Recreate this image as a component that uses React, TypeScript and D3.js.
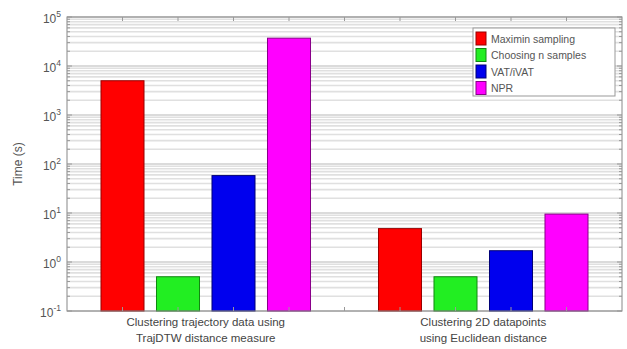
import React, { useEffect, useRef } from 'react';
import * as d3 from 'd3';

const groups = [
  ['Clustering trajectory data using', 'TrajDTW distance measure'],
  ['Clustering 2D datapoints', 'using Euclidean distance'],
];
const methods = ['Maximin sampling', 'Choosing n samples', 'VAT/iVAT', 'NPR'];
const colors = ['#ff0000', '#22ee22', '#0000ee', '#ff00ff'];
const edgeColors = ['#990000', '#118811', '#000077', '#880088'];
// one value per group
const maximin = [5000, 4.8];
const chooseN = [0.5, 0.5];
const vat = [58, 1.7];
const npr = [37000, 9.5];
const yTickExps = [-1, 0, 1, 2, 3, 4, 5];

const App = () => {
  const ref = useRef<SVGSVGElement>(null);

  useEffect(() => {
    const svg = d3.select(ref.current);
    svg.selectAll('*').remove();
    const left = 67, right = 622, top = 17, bottom = 311;

    const x = d3.scaleLinear().domain([0.5, 2.5]).range([left, right]);
    const y = d3.scaleLog().domain([0.1, 100000]).range([bottom, top]);
    const series = [maximin, chooseN, vat, npr];
    const step = 0.2;
    const barW = 0.155;

    svg.append('rect').attr('x', left).attr('y', top).attr('width', right - left).attr('height', bottom - top).attr('fill', '#fff');

    // grid lines
    const minor: number[] = [];
    for (let e = -1; e < 5; e++) for (let m = 1; m <= 9; m++) minor.push(m * Math.pow(10, e));
    minor.push(100000);
    const isMajor = (v: number) => Math.abs(Math.log10(v) - Math.round(Math.log10(v))) < 1e-9;
    svg.append('g').selectAll('line').data(minor).join('line')
      .attr('x1', left).attr('x2', right)
      .attr('y1', d => y(d)).attr('y2', d => y(d))
      .attr('stroke', d => (isMajor(d) ? '#cfcfcf' : '#e0e0e0'))
      .attr('stroke-width', 1.6);

    // bars
    series.forEach((vals, si) => {
      svg.append('g').selectAll('rect').data(vals).join('rect')
        .attr('x', (d, gi) => x(gi + 1 + (si - 1.5) * step - barW / 2))
        .attr('width', x(barW) - x(0))
        .attr('y', d => y(d))
        .attr('height', d => bottom - y(d))
        .attr('fill', colors[si])
        .attr('stroke', edgeColors[si])
        .attr('stroke-width', 1);
    });

    // axes box
    svg.append('rect').attr('x', left).attr('y', top).attr('width', right - left).attr('height', bottom - top)
      .attr('fill', 'none').attr('stroke', '#888').attr('stroke-width', 1);

    // ticks
    const ticks = svg.append('g');
    minor.forEach(v => {
      const len = isMajor(v) ? 5 : 3;
      ticks.append('line').attr('x1', left).attr('x2', left + len).attr('y1', y(v)).attr('y2', y(v)).attr('stroke', '#999');
      ticks.append('line').attr('x1', right).attr('x2', right - len).attr('y1', y(v)).attr('y2', y(v)).attr('stroke', '#999');
    });
    d3.range(0.7, 2.4, 0.2).forEach(v => {
      ticks.append('line').attr('x1', x(v)).attr('x2', x(v)).attr('y1', top).attr('y2', top + 4).attr('stroke', '#999');
      ticks.append('line').attr('x1', x(v)).attr('x2', x(v)).attr('y1', bottom).attr('y2', bottom - 4).attr('stroke', '#999');
    });

    const font = 'Liberation Sans, Arial, sans-serif';
    yTickExps.forEach(e => {
      const t = svg.append('text').attr('x', left - 6).attr('y', y(Math.pow(10, e)) + 6)
        .attr('text-anchor', 'end').attr('font-family', font).attr('font-size', 12).attr('fill', '#555');
      t.append('tspan').text('10');
      t.append('tspan').attr('dy', -6).attr('font-size', 8.5).text(String(e));
    });

    svg.append('text').attr('transform', `translate(22, ${(top + bottom) / 2}) rotate(-90)`)
      .attr('text-anchor', 'middle').attr('font-family', font).attr('font-size', 12).attr('fill', '#555')
      .text('Time (s)');

    groups.forEach((lines, gi) => {
      lines.forEach((l, li) => {
        svg.append('text').attr('x', x(gi + 1)).attr('y', 326 + li * 16)
          .attr('text-anchor', 'middle').attr('font-family', font).attr('font-size', 11.5).attr('fill', '#444')
          .text(l);
      });
    });

    // legend
    const lg = svg.append('g').attr('transform', 'translate(473, 28)');
    lg.append('rect').attr('width', 142).attr('height', 68).attr('fill', '#fff').attr('stroke', '#999');
    methods.forEach((m, i) => {
      lg.append('rect').attr('x', 3).attr('y', 4 + i * 16.5).attr('width', 10).attr('height', 13)
        .attr('fill', colors[i]).attr('stroke', edgeColors[i]);
      lg.append('text').attr('x', 18).attr('y', 14.5 + i * 16.5).attr('font-family', font).attr('font-size', 10.5)
        .attr('fill', '#555').text(m);
    });
  }, []);

  return <svg ref={ref} width={627} height={349} style={{ position: 'absolute', left: 0, top: 0 }} />;
};

export default App;
